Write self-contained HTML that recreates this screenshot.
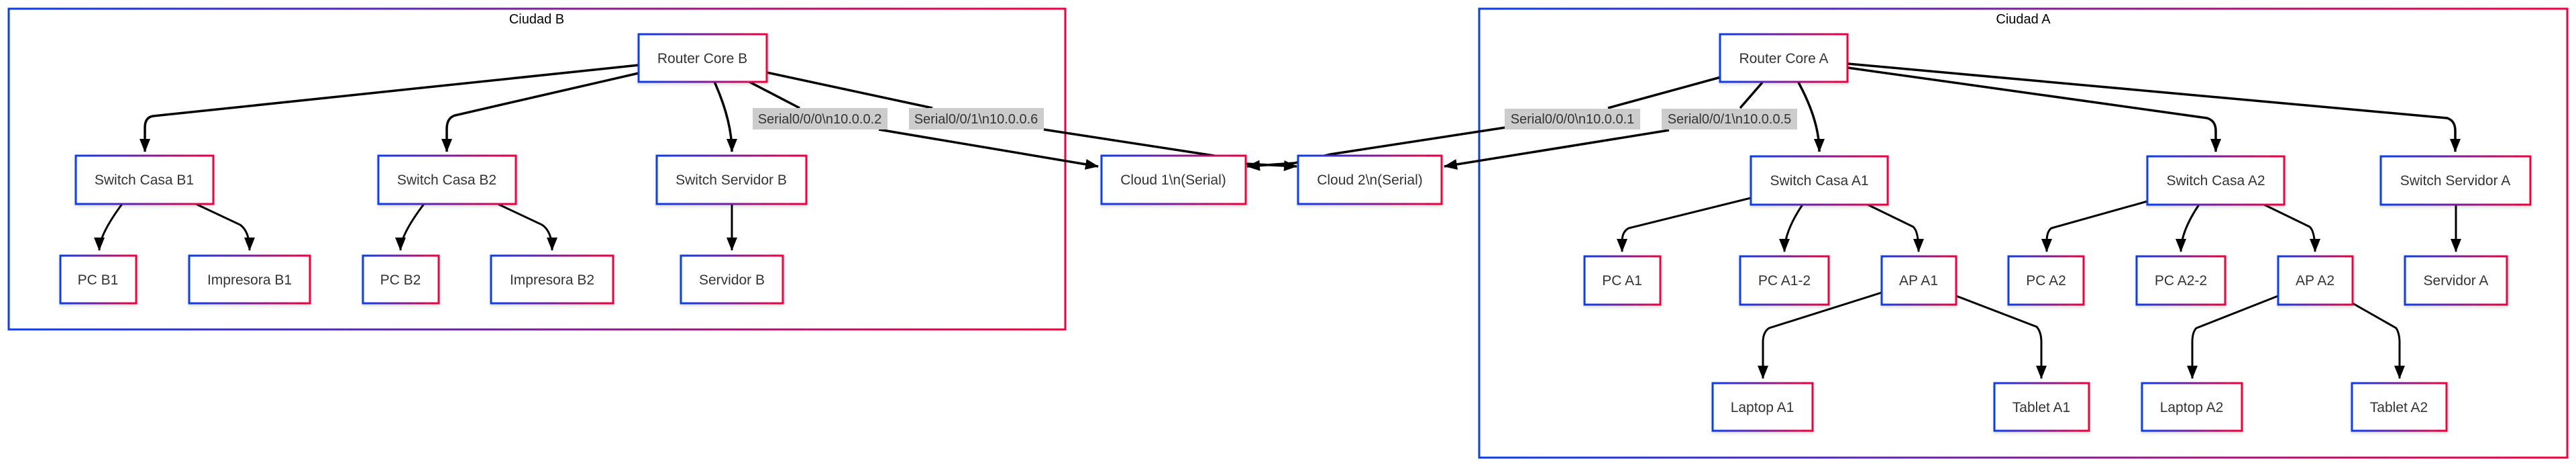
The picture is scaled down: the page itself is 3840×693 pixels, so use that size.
<!DOCTYPE html>
<html><head><meta charset="utf-8"><style>
html,body{margin:0;padding:0;background:#fff;width:3840px;height:693px;overflow:hidden}
svg text{font-family:"Liberation Sans",Arial,sans-serif;fill:#333}
</style></head><body>
<svg width="3840" height="693" viewBox="0 0 3840 693" xmlns="http://www.w3.org/2000/svg">
<defs>
<linearGradient id="g" x1="0" y1="0" x2="1" y2="0"><stop offset="0" stop-color="#0a3cf0"/><stop offset="0.5" stop-color="#7a1e9a"/><stop offset="1" stop-color="#f2003c"/></linearGradient>
<marker id="a" viewBox="0 0 20 16" refX="19" refY="8" markerWidth="20" markerHeight="16" markerUnits="userSpaceOnUse" orient="auto"><path d="M0,0 L20,8 L0,16 z" fill="#000"/></marker>
<filter id="sh" x="-10%" y="-10%" width="120%" height="130%"><feDropShadow dx="0" dy="3" stdDeviation="2" flood-color="#000" flood-opacity="0.12"/></filter>
</defs>
<rect x="13" y="13" width="1575" height="478" fill="none" stroke="url(#g)" stroke-width="3"/>
<text x="800" y="35" font-size="20" text-anchor="middle" style="fill:#000">Ciudad B</text>
<rect x="2205" y="13" width="1622" height="669" fill="none" stroke="url(#g)" stroke-width="3"/>
<text x="3016" y="35" font-size="20" text-anchor="middle" style="fill:#000">Ciudad A</text>

<g fill="none" stroke="#000" stroke-width="3.5">
<path d="M952,97 L228,173 Q216,175 216,190 L216,226" marker-end="url(#a)"/>
<path d="M952,109 L678,172 Q666,176 666,192 L666,226" marker-end="url(#a)"/>
<path d="M1065,122 Q1091,180 1091,226" marker-end="url(#a)"/>
<path d="M1117,122 L1192,161"/>
<path d="M1310,193 L1637,248" marker-end="url(#a)"/>
<path d="M1143,108 L1390,161"/>
<path d="M1556,193 L1810,232 L1857,244 L1933,248" marker-end="url(#a)"/>
<path d="M182,304 Q148,350 148,373" marker-end="url(#a)" stroke-width="3"/>
<path d="M292,304 L358,335 Q372,345 372,373" marker-end="url(#a)" stroke-width="3"/>
<path d="M632,304 Q597,350 597,373" marker-end="url(#a)" stroke-width="3"/>
<path d="M742,304 L808,335 Q823,345 823,373" marker-end="url(#a)" stroke-width="3"/>
<path d="M1091,304 L1091,373" marker-end="url(#a)" stroke-width="3"/>
<path d="M2565,115 L2397,161"/>
<path d="M2244,190 L1983,230 L1930,243 L1859,248" marker-end="url(#a)"/>
<path d="M2627,123 L2594,161"/>
<path d="M2488,194 L2153,248" marker-end="url(#a)"/>
<path d="M2681,123 Q2712,180 2712,226" marker-end="url(#a)"/>
<path d="M2755,101 L3290,176 Q3303,180 3303,195 L3303,226" marker-end="url(#a)"/>
<path d="M2755,95 L3648,176 Q3660,180 3660,195 L3660,226" marker-end="url(#a)"/>
<path d="M2610,295 L2428,340 Q2418,345 2418,360 L2418,375" marker-end="url(#a)" stroke-width="3"/>
<path d="M2687,305 Q2660,345 2660,375" marker-end="url(#a)" stroke-width="3"/>
<path d="M2784,305 L2852,338 Q2860,345 2860,375" marker-end="url(#a)" stroke-width="3"/>
<path d="M2805,436 L2637,489 Q2628,495 2628,510 L2628,564" marker-end="url(#a)" stroke-width="3"/>
<path d="M2916,441 L3036,487 Q3043,495 3043,510 L3043,564" marker-end="url(#a)" stroke-width="3"/>
<path d="M3201,300 L3058,340 Q3051,345 3051,360 L3051,375" marker-end="url(#a)" stroke-width="3"/>
<path d="M3278,305 Q3251,345 3251,375" marker-end="url(#a)" stroke-width="3"/>
<path d="M3375,305 L3443,338 Q3451,345 3451,375" marker-end="url(#a)" stroke-width="3"/>
<path d="M3396,441 L3274,489 Q3268,495 3268,510 L3268,564" marker-end="url(#a)" stroke-width="3"/>
<path d="M3507,452 L3572,489 Q3577,497 3577,510 L3577,564" marker-end="url(#a)" stroke-width="3"/>
<path d="M3661,305 L3661,375" marker-end="url(#a)" stroke-width="3"/>
</g>

<g font-size="20">
<rect x="1122" y="161" width="201" height="32" fill="#ccc"/><text x="1222" y="184" text-anchor="middle">Serial0/0/0\n10.0.0.2</text>
<rect x="1355" y="161" width="201" height="32" fill="#ccc"/><text x="1455" y="184" text-anchor="middle">Serial0/0/1\n10.0.0.6</text>
<rect x="2243" y="162" width="202" height="31" fill="#ccc"/><text x="2344" y="184" text-anchor="middle">Serial0/0/0\n10.0.0.1</text>
<rect x="2477" y="162" width="202" height="31" fill="#ccc"/><text x="2578" y="184" text-anchor="middle">Serial0/0/1\n10.0.0.5</text>
</g>

<g fill="#fff" stroke="url(#g)" stroke-width="3" filter="url(#sh)">
<rect x="952" y="51" width="191" height="71"/>
<rect x="113" y="232" width="205" height="72"/>
<rect x="564" y="232" width="205" height="72"/>
<rect x="979" y="232" width="223" height="72"/>
<rect x="90" y="381" width="113" height="71"/>
<rect x="282" y="381" width="180" height="71"/>
<rect x="541" y="381" width="113" height="71"/>
<rect x="732" y="381" width="182" height="71"/>
<rect x="1015" y="381" width="152" height="71"/>
<rect x="1642" y="232" width="215" height="72"/>
<rect x="1935" y="232" width="214" height="72"/>
<rect x="2564" y="51" width="190" height="71"/>
<rect x="2610" y="233" width="204" height="72"/>
<rect x="3201" y="233" width="204" height="72"/>
<rect x="3549" y="233" width="223" height="72"/>
<rect x="2362" y="382" width="113" height="72"/>
<rect x="2594" y="382" width="132" height="72"/>
<rect x="2805" y="382" width="111" height="72"/>
<rect x="2994" y="382" width="112" height="72"/>
<rect x="3185" y="382" width="132" height="72"/>
<rect x="3396" y="382" width="111" height="72"/>
<rect x="3585" y="382" width="152" height="72"/>
<rect x="2553" y="571" width="149" height="71"/>
<rect x="2973" y="571" width="141" height="71"/>
<rect x="3193" y="571" width="149" height="71"/>
<rect x="3506" y="571" width="141" height="71"/>
</g>
<g font-size="21" text-anchor="middle">
<text x="1047" y="94">Router Core B</text>
<text x="215" y="275">Switch Casa B1</text>
<text x="666" y="275">Switch Casa B2</text>
<text x="1090" y="275">Switch Servidor B</text>
<text x="146" y="424">PC B1</text>
<text x="372" y="424">Impresora B1</text>
<text x="597" y="424">PC B2</text>
<text x="823" y="424">Impresora B2</text>
<text x="1091" y="424">Servidor B</text>
<text x="1749" y="275">Cloud 1\n(Serial)</text>
<text x="2042" y="275">Cloud 2\n(Serial)</text>
<text x="2659" y="94">Router Core A</text>
<text x="2712" y="276">Switch Casa A1</text>
<text x="3303" y="276">Switch Casa A2</text>
<text x="3660" y="276">Switch Servidor A</text>
<text x="2418" y="425">PC A1</text>
<text x="2660" y="425">PC A1-2</text>
<text x="2860" y="425">AP A1</text>
<text x="3050" y="425">PC A2</text>
<text x="3251" y="425">PC A2-2</text>
<text x="3451" y="425">AP A2</text>
<text x="3661" y="425">Servidor A</text>
<text x="2627" y="614">Laptop A1</text>
<text x="3043" y="614">Tablet A1</text>
<text x="3267" y="614">Laptop A2</text>
<text x="3576" y="614">Tablet A2</text>
</g>
</svg>
</body></html>
